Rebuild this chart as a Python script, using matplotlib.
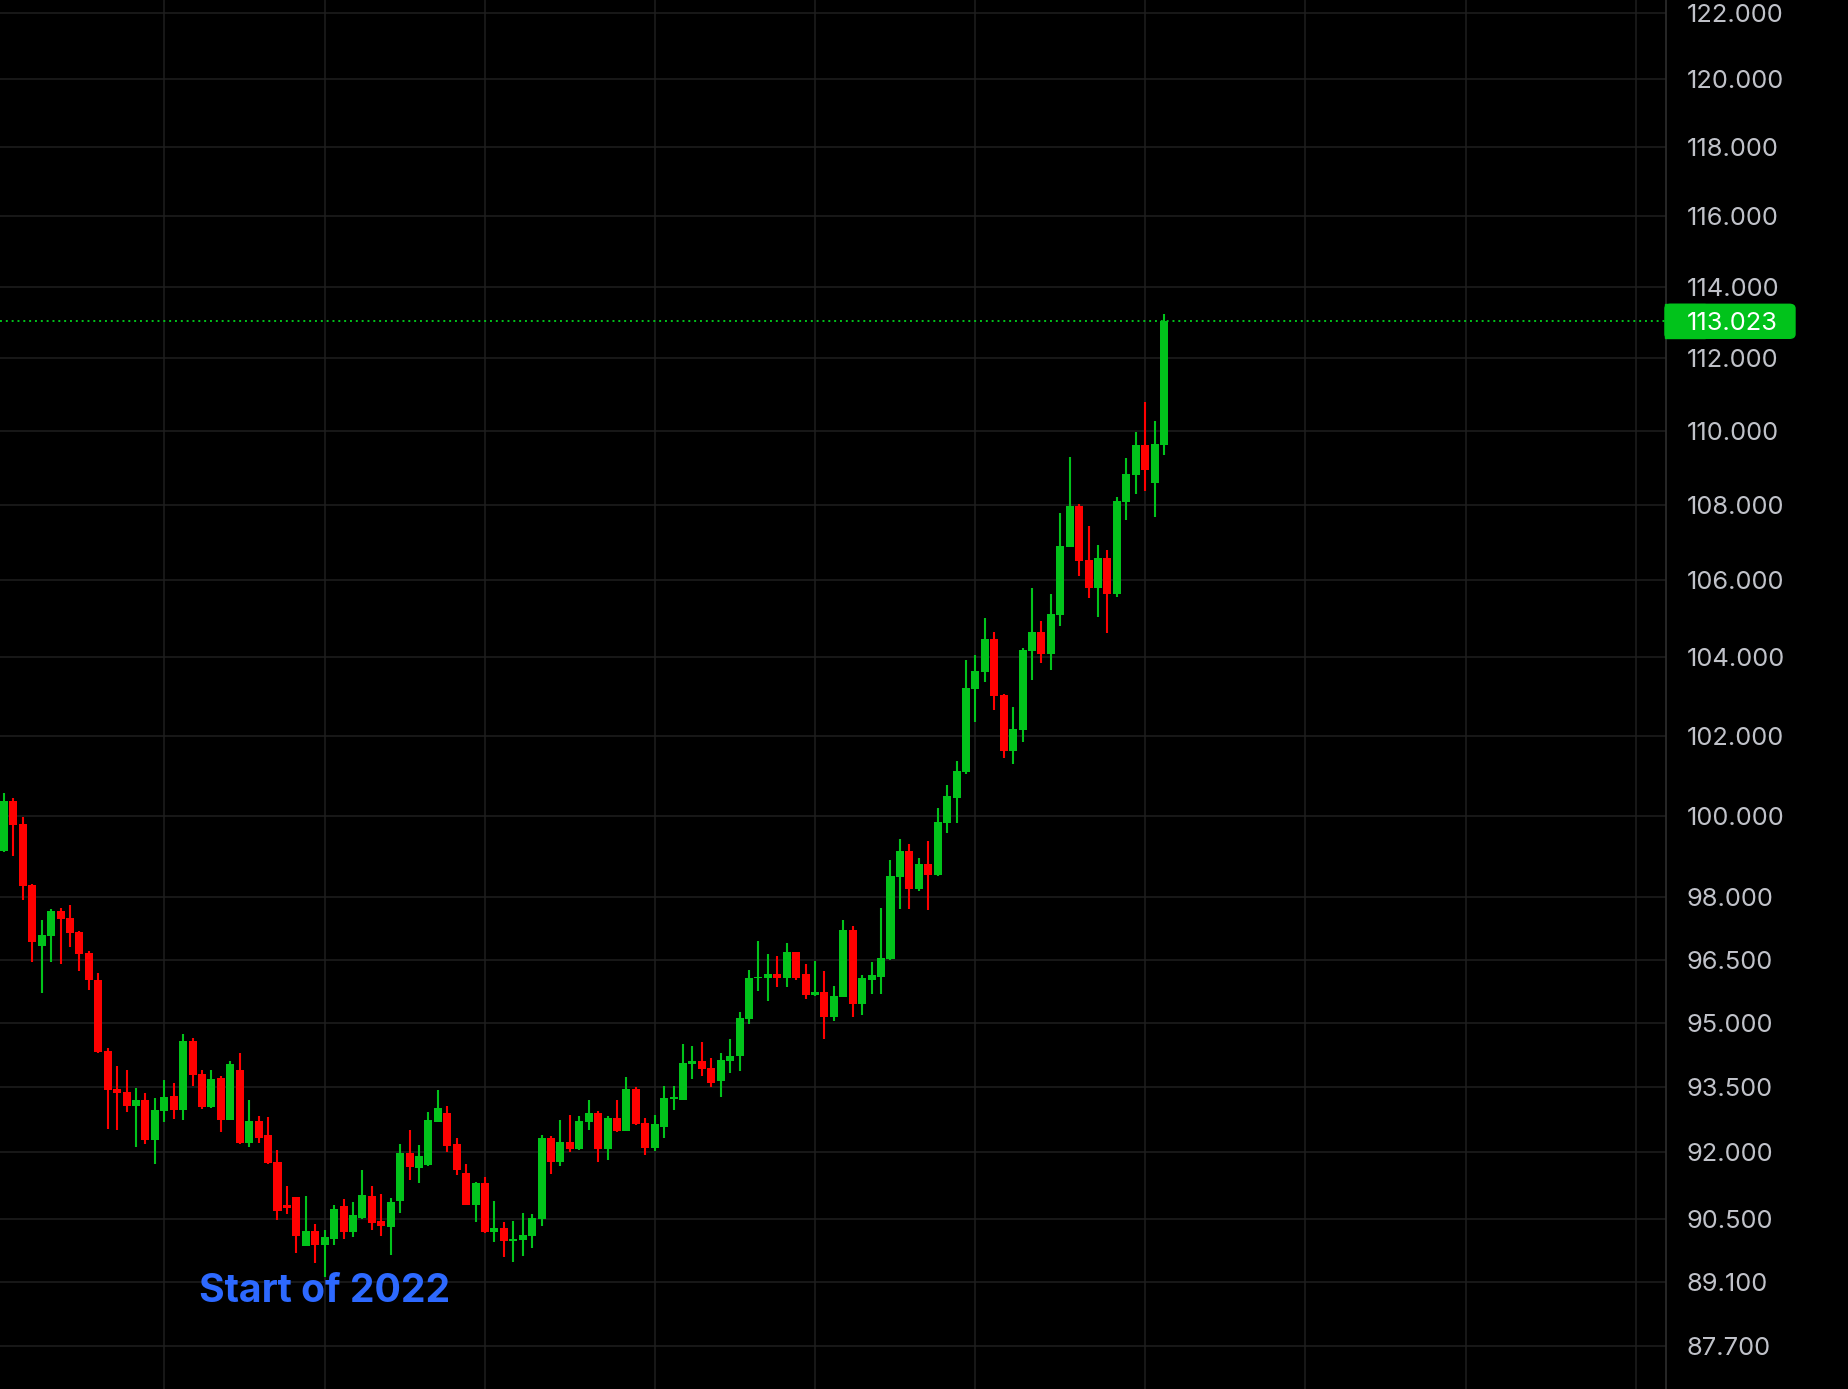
import numpy as np
import matplotlib
matplotlib.use("Agg")
import matplotlib.pyplot as plt
from matplotlib.ticker import NullLocator
from matplotlib.patches import FancyBboxPatch, Rectangle

plt.rcParams['font.family'] = ['Inter', 'DejaVu Sans']

# candle data, one value per bar
opens = [99.12, 100.37, 99.79, 98.30, 96.83, 97.07, 97.66, 97.49, 97.16, 96.66,
         96.02, 94.34, 93.46, 93.39, 93.06, 93.20, 92.28, 92.94, 93.29, 92.97,
         94.57, 93.81, 93.04, 93.71, 92.75, 93.90, 92.21, 92.72, 92.40, 91.78,
         90.81, 90.98, 89.89, 90.23, 89.91, 90.05, 90.78, 90.21, 90.51, 91.01,
         90.46, 90.32, 90.90, 91.98, 91.64, 91.71, 92.70, 92.90, 92.19, 91.54,
         90.81, 91.31, 90.21, 90.30, 90.00, 90.03, 90.12, 90.49, 92.33, 91.78,
         92.24, 92.07, 92.70, 92.90, 92.07, 92.78, 92.49, 93.46, 92.68, 92.10,
         92.58, 93.22, 93.20, 94.03, 94.10, 93.94, 93.65, 94.10, 94.22, 95.09,
         96.05, 96.05, 96.16, 96.05, 96.68, 96.16, 95.66, 95.73, 95.14, 95.61,
         97.21, 95.44, 96.02, 96.09, 96.51, 98.49, 99.14, 98.21, 98.81, 98.54,
         99.82, 100.45, 101.09, 103.19, 103.62, 104.48, 103.03, 101.62, 102.15, 104.16,
         104.65, 104.09, 105.10, 106.88, 107.97, 106.53, 105.80, 106.59, 105.64, 108.08,
         108.81, 109.62, 108.59, 109.61]
highs = [100.55, 100.45, 99.97, 98.32, 97.45, 97.71, 97.74, 97.81, 97.19, 96.71,
         96.18, 94.41, 93.99, 93.90, 93.48, 93.36, 93.25, 93.67, 93.60, 94.74,
         94.65, 93.90, 93.90, 93.76, 94.10, 94.29, 93.20, 92.83, 92.81, 92.05,
         91.24, 90.99, 91.01, 90.39, 90.25, 90.81, 90.94, 90.87, 91.60, 91.24,
         91.06, 90.97, 92.19, 92.51, 92.17, 92.92, 93.43, 93.06, 92.33, 91.73,
         91.33, 91.45, 90.90, 90.43, 90.46, 90.63, 90.60, 92.40, 92.37, 92.75,
         92.85, 92.83, 93.20, 92.94, 92.83, 93.20, 93.74, 93.50, 92.78, 92.85,
         93.53, 93.53, 94.50, 94.45, 94.55, 94.17, 94.29, 94.62, 95.25, 96.25,
         96.95, 96.63, 96.59, 96.90, 96.69, 96.39, 96.47, 96.23, 95.88, 97.45,
         97.31, 96.12, 96.44, 97.74, 98.91, 99.43, 99.31, 98.96, 99.38, 100.19,
         100.76, 101.35, 103.93, 104.06, 105.02, 104.65, 103.06, 102.72, 104.24, 105.80,
         104.94, 105.64, 107.78, 109.29, 108.02, 107.43, 106.93, 106.80, 108.21, 109.26,
         109.97, 110.79, 110.27, 113.23]
lows = [99.10, 99.01, 97.93, 96.44, 95.71, 96.44, 96.39, 96.80, 96.23, 95.78,
        94.30, 92.54, 92.51, 92.92, 92.12, 92.19, 91.73, 92.70, 92.76, 92.75,
        93.53, 92.99, 93.01, 92.47, 92.73, 92.19, 92.12, 92.21, 91.74, 90.48,
        90.60, 89.73, 89.88, 89.51, 89.21, 89.91, 90.05, 90.09, 90.50, 90.25,
        90.12, 89.69, 90.63, 91.38, 91.31, 91.70, 92.69, 92.00, 91.49, 90.80,
        90.43, 90.19, 89.98, 89.64, 89.53, 89.67, 89.84, 90.34, 91.51, 91.69,
        92.00, 92.06, 92.51, 91.78, 91.82, 92.47, 92.48, 92.63, 91.94, 92.03,
        92.33, 92.97, 93.19, 93.69, 93.76, 93.50, 93.27, 93.83, 93.88, 94.98,
        95.76, 95.52, 95.85, 95.85, 96.00, 95.56, 95.64, 94.62, 95.04, 95.60,
        95.14, 95.18, 95.68, 95.68, 96.50, 97.71, 97.71, 98.16, 97.69, 98.52,
        99.58, 99.82, 101.04, 102.35, 103.37, 102.65, 101.44, 101.29, 101.84, 103.41,
        103.85, 103.67, 104.81, 106.87, 106.12, 105.53, 105.04, 104.63, 105.56, 107.59,
        108.29, 108.37, 107.67, 109.34]
closes = [100.37, 99.77, 98.28, 96.92, 97.09, 97.66, 97.47, 97.14, 96.63, 96.00,
          94.31, 93.43, 93.36, 93.06, 93.20, 92.28, 92.97, 93.27, 92.97, 94.57,
          93.78, 93.04, 93.69, 92.75, 94.03, 92.21, 92.72, 92.33, 91.75, 90.67,
          90.74, 90.12, 90.23, 89.91, 90.09, 90.72, 90.21, 90.58, 91.03, 90.41,
          90.34, 90.87, 91.98, 91.66, 91.91, 92.75, 93.01, 92.14, 91.60, 90.81,
          91.31, 90.21, 90.30, 90.00, 90.05, 90.14, 90.51, 92.33, 91.78, 92.24,
          92.07, 92.72, 92.90, 92.07, 92.78, 92.49, 93.46, 92.65, 92.10, 92.65,
          93.25, 93.27, 94.06, 94.10, 93.92, 93.60, 94.13, 94.22, 95.11, 96.07,
          96.09, 96.16, 96.05, 96.68, 96.05, 95.66, 95.73, 95.14, 95.64, 97.21,
          95.44, 96.05, 96.12, 96.54, 98.52, 99.14, 98.21, 98.81, 98.54, 99.84,
          100.48, 101.12, 103.21, 103.64, 104.48, 103.00, 101.61, 102.17, 104.19, 104.65,
          104.09, 105.12, 106.91, 107.97, 106.51, 105.80, 106.59, 105.64, 108.10, 108.83,
          109.61, 108.94, 109.64, 113.023]

# price scale labels (log scale) and the bars where the time grid lines fall
price_ticks = [87.7, 89.1, 90.5, 92, 93.5, 95, 96.5, 98, 100, 102, 104, 106,
               108, 110, 112, 114, 116, 118, 120, 122]
time_grid = [17, 34, 51, 69, 86, 103, 121, 138, 155, 173]
note_text = "Start of 2022"
note_bar = 34
note_price = 88.65

green = '#01c31b'
red = '#ff0000'
grid_col = '#1f1f1f'
label_col = '#c0c2c9'

W, H = 1849, 1389
fig = plt.figure(figsize=(W / 100, H / 100), dpi=100, facecolor='black')
ax = fig.add_axes([0, 0, 1666 / W, 1])
ax.set_facecolor('black')

o = np.array(opens)
c = np.array(closes)
x = np.arange(len(c))
cols = np.where(c >= o, green, red)

ax.vlines(x, lows, highs, colors=cols, linewidth=1.5, zorder=3)
ax.bar(x, np.abs(c - o), bottom=np.minimum(o, c), width=0.85, color=cols,
       linewidth=0, zorder=4)

ax.set_yscale('log')
ax.set_ylim(86.763, 122.384)
ax.set_xlim(-0.424, 176.23)

ax.set_yticks(price_ticks)
ax.set_yticklabels(["%.3f" % p for p in price_ticks])
ax.yaxis.set_minor_locator(NullLocator())
ax.yaxis.tick_right()
ax.tick_params(axis='y', length=0, pad=15, labelsize=18.3, labelcolor=label_col)

ax.set_xticks(time_grid)
ax.tick_params(axis='x', length=0, labelbottom=False)
ax.grid(True, color=grid_col, linewidth=1.1)
ax.set_axisbelow(True)

for s in ['top', 'left', 'bottom']:
    ax.spines[s].set_visible(False)
ax.spines['right'].set_color('#2b2b2b')
ax.spines['right'].set_linewidth(1.3)

# last price line + tag on the scale
last = closes[-1]
ax.axhline(last, color=green, linestyle=(0, (1, 2)), linewidth=1.4, zorder=2)

fig.canvas.draw()
y_pix = ax.transData.transform((0, last))[1]
box = FancyBboxPatch((1665 / W, (y_pix - 17) / H), 130 / W, 34 / H,
                     boxstyle='round,pad=0,rounding_size=0.003',
                     transform=fig.transFigure, color=green, zorder=5)
fig.patches.append(box)
fig.patches.append(Rectangle((1665 / W, (y_pix - 17) / H), 40 / W, 34 / H,
                             transform=fig.transFigure, color=green, zorder=5))
fig.text(1687 / W, y_pix / H, "%.3f" % last, color='white', fontsize=18.3,
         ha='left', va='center_baseline', zorder=6)

ax.text(note_bar, note_price, note_text, color='#2d69ff', fontsize=28.2,
        fontweight='bold', ha='center', va='baseline', zorder=6)

fig.savefig('out.png', dpi=100, facecolor='black')
